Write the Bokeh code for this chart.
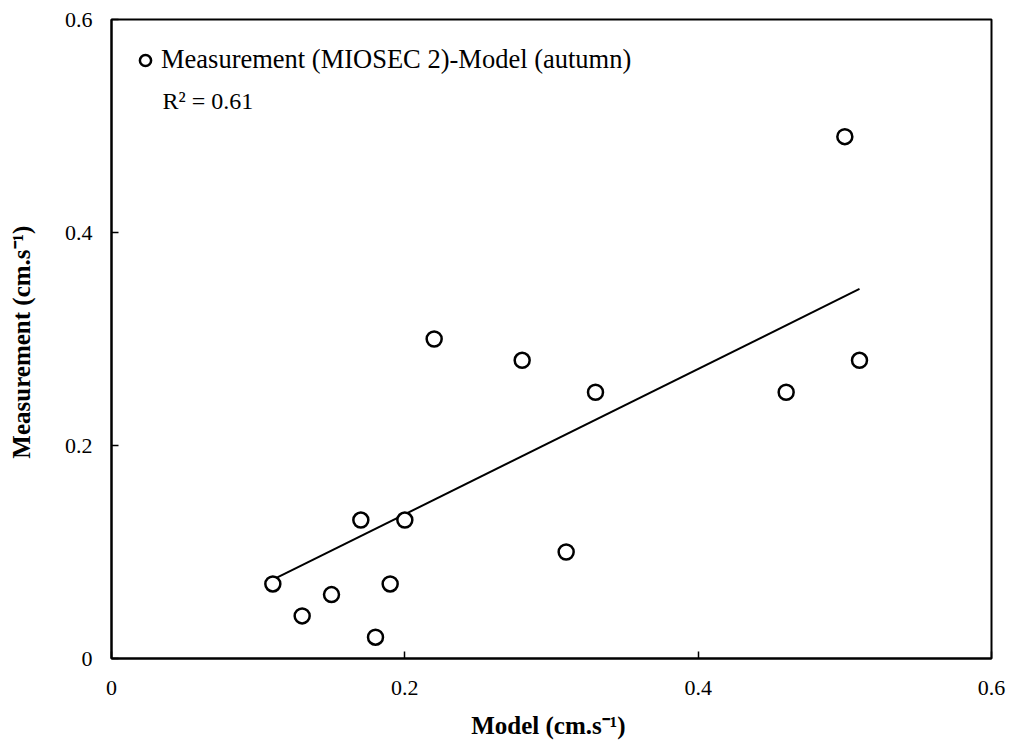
from bokeh.plotting import figure
from bokeh.models import Legend, LegendItem, Label, FixedTicker, CustomJSTickFormatter, Range1d
from bokeh.embed import file_html
from bokeh.resources import INLINE

model = [0.11, 0.13, 0.15, 0.17, 0.18, 0.19, 0.20, 0.22, 0.28, 0.31, 0.33, 0.46, 0.50, 0.51]
measurement = [0.07, 0.04, 0.06, 0.13, 0.02, 0.07, 0.13, 0.30, 0.28, 0.10, 0.25, 0.25, 0.49, 0.28]
trend_x = [0.11, 0.51]
trend_y = [0.074, 0.347]
ticks = [0, 0.2, 0.4, 0.6]
series_name = "Measurement (MIOSEC 2)-Model (autumn)"
r2_text = "R² = 0.61"
x_title = "Model  (cm.s⁻¹)"
y_title = "Measurement  (cm.s⁻¹)"

FONT = "Liberation Serif"

p = figure(width=1013, height=742, output_backend="svg", toolbar_location=None,
           x_range=Range1d(0, 0.6), y_range=Range1d(0, 0.6),
           min_border_left=111, min_border_right=22, min_border_top=19, min_border_bottom=84)

p.xgrid.visible = False
p.ygrid.visible = False
p.outline_line_color = "black"
p.outline_line_width = 2
p.background_fill_color = "white"
p.border_fill_color = "white"

fmt = CustomJSTickFormatter(code="return tick === 0 ? '0' : tick.toFixed(1);")
for ax in (p.xaxis[0], p.yaxis[0]):
    ax.ticker = FixedTicker(ticks=ticks)
    ax.formatter = fmt
    ax.major_tick_in = 7
    ax.major_tick_out = 0
    ax.minor_tick_in = 0
    ax.minor_tick_out = 0
    ax.axis_line_color = "black"
    ax.axis_line_width = 2
    ax.major_tick_line_color = "black"
    ax.major_tick_line_width = 1.5
    ax.major_label_text_font = FONT
    ax.major_label_text_font_size = "22px"
    ax.major_label_text_color = "black"
    ax.axis_label_text_font = FONT
    ax.axis_label_text_font_size = "25px"
    ax.axis_label_text_font_style = "bold"
    ax.axis_label_text_color = "black"

p.xaxis[0].major_label_standoff = 22
p.yaxis[0].major_label_standoff = 19
p.xaxis[0].axis_label = x_title
p.yaxis[0].axis_label = y_title
p.xaxis[0].axis_label_standoff = 14
p.yaxis[0].axis_label_standoff = 27

p.line(trend_x, trend_y, line_color="black", line_width=2)

r = p.scatter(model, measurement, marker="circle", size=15, fill_color="white",
              line_color="black", line_width=2.5)

legend = Legend(items=[LegendItem(label=series_name, renderers=[r])],
                location=(20, 583), border_line_color=None, background_fill_alpha=0,
                label_text_font=FONT, label_text_font_size="26.5px", label_text_color="black",
                glyph_width=28, glyph_height=28, label_standoff=2, padding=0, margin=0)
p.add_layout(legend)

p.add_layout(Label(x=51, y=545, x_units="screen", y_units="screen", text=r2_text,
                   text_font=FONT, text_font_size="24px", text_color="black"))

open("out.html", "w").write(file_html(p, INLINE))
